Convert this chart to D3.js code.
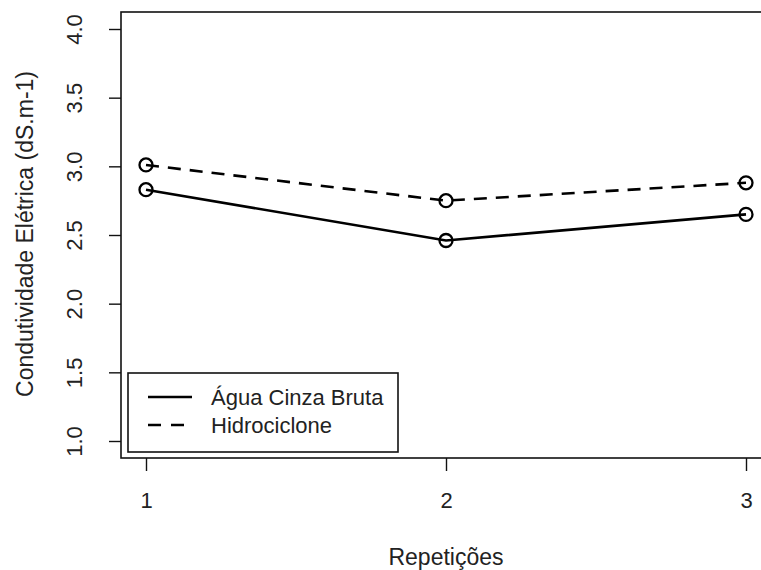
<!DOCTYPE html>
<html>
<head>
<meta charset="utf-8">
<script src="https://cdn.jsdelivr.net/npm/d3@7"></script>
<style>
  body { margin: 0; background: #fff; }
  svg { display: block; font-family: "Liberation Sans", Arial, sans-serif; }
</style>
</head>
<body>
<svg id="chart" width="761" height="570"></svg>
<script>
// data
const repeticoes = [1, 2, 3]
const aguaBruta = [2.83, 2.46, 2.65]
const hidrociclone = [3.01, 2.75, 2.88]
const yTicks = [1.0, 1.5, 2.0, 2.5, 3.0, 3.5, 4.0]
const seriesNames = ['Água Cinza Bruta', 'Hidrociclone']

const svg = d3.select('#chart')
const ink = '#111'

// plot region (right side runs past the window, as in the reference)
const box = { left: 121, top: 12, right: 790, bottom: 458 }

const x = d3.scaleLinear().domain([1, 3]).range([146, 746])
const y = d3.scaleLinear().domain([1, 4]).range([441, 29])

// frame
svg.append('rect')
  .attr('x', box.left).attr('y', box.top)
  .attr('width', box.right - box.left).attr('height', box.bottom - box.top)
  .attr('fill', 'none').attr('stroke', ink).attr('stroke-width', 1.6)

// y axis
const yAxis = svg.append('g')
  .attr('transform', `translate(${box.left},0)`)
  .call(d3.axisLeft(y).tickValues(yTicks).tickSize(12).tickFormat(d3.format('.1f')))
yAxis.select('.domain').remove()
yAxis.selectAll('line').attr('stroke', ink).attr('stroke-width', 1.4)
yAxis.selectAll('text').remove()
yAxis.selectAll('.tick').append('text')
  .attr('transform', 'translate(-39,0) rotate(-90)')
  .attr('text-anchor', 'middle')
  .attr('fill', '#222')
  .style('font-size', '22px')
  .text(d => d3.format('.1f')(d))

// x axis
const xAxis = svg.append('g')
  .attr('transform', `translate(0,${box.bottom})`)
  .call(d3.axisBottom(x).tickValues(repeticoes).tickSize(13).tickFormat(d3.format('d')))
xAxis.select('.domain').remove()
xAxis.selectAll('line').attr('stroke', ink).attr('stroke-width', 1.4)
xAxis.selectAll('text')
  .attr('y', 50).attr('dy', null)
  .attr('fill', '#222')
  .style('font-size', '22px')

// axis titles
svg.append('text')
  .attr('x', 446).attr('y', 565)
  .attr('text-anchor', 'middle')
  .attr('fill', '#222')
  .style('font-size', '23px')
  .text('Repetições')

svg.append('text')
  .attr('transform', 'translate(33,234) rotate(-90)')
  .attr('text-anchor', 'middle')
  .attr('fill', '#222')
  .style('font-size', '23px')
  .text('Condutividade Elétrica (dS.m-1)')

// series
const line = d3.line().x((d, i) => x(repeticoes[i])).y(d => y(d))

function drawSeries(values, dash) {
  svg.append('path')
    .datum(values)
    .attr('d', line)
    .attr('fill', 'none')
    .attr('stroke', '#000')
    .attr('stroke-width', 2.6)
    .attr('stroke-dasharray', dash)
  svg.append('g').selectAll('circle')
    .data(values)
    .join('circle')
    .attr('cx', (d, i) => x(repeticoes[i]))
    .attr('cy', d => y(d))
    .attr('r', 6.5)
    .attr('fill', 'none')
    .attr('stroke', '#000')
    .attr('stroke-width', 2.3)
}

drawSeries(aguaBruta, null)
drawSeries(hidrociclone, '13,9')

// legend
const legend = svg.append('g')
legend.append('rect')
  .attr('x', 128).attr('y', 373).attr('width', 270).attr('height', 79)
  .attr('fill', '#fff').attr('stroke', ink).attr('stroke-width', 1.6)

const dashes = [null, '13,10']
seriesNames.forEach((name, i) => {
  const ly = 397 + i * 28
  legend.append('line')
    .attr('x1', 148).attr('x2', 192).attr('y1', ly).attr('y2', ly)
    .attr('stroke', '#000').attr('stroke-width', 2.6)
    .attr('stroke-dasharray', dashes[i])
  legend.append('text')
    .attr('x', 211).attr('y', ly + 8)
    .attr('fill', '#222')
    .style('font-size', '22px')
    .text(name)
})
</script>
</body>
</html>
